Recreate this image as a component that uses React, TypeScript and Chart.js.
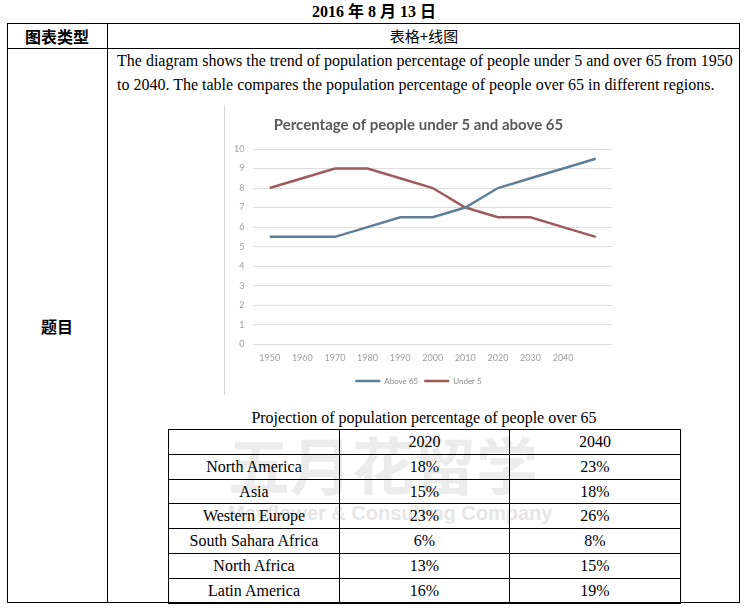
import React, { useEffect, useRef } from "react";
import { Chart, registerables } from "chart.js";

Chart.register(...registerables);

const years = ["1950", "1960", "1970", "1980", "1990", "2000", "2010", "2020", "2030", "2040", ""];
const above65 = [5.5, 5.5, 5.5, 6, 6.5, 6.5, 7, 8, 8.5, 9, 9.5];
const under5 = [8, 8.5, 9, 9, 8.5, 8, 7, 6.5, 6.5, 6, 5.5];

const regions = ["North America", "Asia", "Western Europe", "South Sahara Africa", "North Africa", "Latin America"];
const col2020 = ["18%", "15%", "23%", "6%", "13%", "16%"];
const col2040 = ["23%", "18%", "26%", "8%", "15%", "19%"];
const tableHeaders = ["", "2020", "2040"];

const SERIF = "'Liberation Serif', 'Times New Roman', 'Noto Sans CJK SC', serif";
const CJK = "'Liberation Serif', 'Noto Sans CJK SC', serif";
const SANS = "Lato, 'Open Sans', sans-serif";

function LineChart() {
  const ref = useRef<HTMLCanvasElement>(null);
  useEffect(() => {
    if (!ref.current) return;
    const chart = new Chart(ref.current, {
      type: "line",
      data: {
        labels: years,
        datasets: [
          {
            label: "Above 65",
            data: above65,
            borderColor: "#5d7f99",
            backgroundColor: "#5d7f99",
            borderWidth: 2.5,
            pointRadius: 0,
            tension: 0,
          },
          {
            label: "Under 5",
            data: under5,
            borderColor: "#a05a5e",
            backgroundColor: "#a05a5e",
            borderWidth: 2.5,
            pointRadius: 0,
            tension: 0,
          },
        ],
      },
      options: {
        responsive: false,
        animation: false,
        layout: { padding: { left: 0, right: 13, top: 0, bottom: 0 } },
        plugins: {
          title: {
            display: true,
            text: "Percentage of people under 5 and above 65",
            color: "#595959",
            font: { family: SANS, size: 15, weight: "bold" },
            padding: { top: 11, bottom: 15 },
          },
          legend: {
            position: "bottom",
            labels: {
              usePointStyle: true,
              pointStyle: "line",
              pointStyleWidth: 25,
              color: "#8c8c8c",
              font: { family: SANS, size: 8 },
              padding: 6,
            },
          },
          tooltip: { enabled: false },
        },
        scales: {
          x: {
            offset: true,
            grid: { display: false, drawTicks: false },
            border: { display: false },
            ticks: {
              color: "#a0a0a0",
              font: { family: SANS, size: 9 },
              padding: 8,
              maxRotation: 0,
              autoSkip: false,
            },
          },
          y: {
            min: 0,
            max: 10,
            grid: { color: "#dedede", drawTicks: false },
            border: { display: false },
            ticks: {
              stepSize: 1,
              color: "#a0a0a0",
              font: { family: SANS, size: 9 },
              padding: 9,
            },
          },
        },
      },
    });
    return () => chart.destroy();
  }, []);
  return <canvas ref={ref} width={400} height={290} style={{ display: "block" }} />;
}

const rowLines = [429, 454, 479, 503, 528, 553, 578, 602];
const colLines = [168, 339, 509, 680];

export default function App() {
  const abs = (l: number, t: number, w: number, h: number): React.CSSProperties => ({
    position: "absolute",
    left: l,
    top: t,
    width: w,
    height: h,
  });
  const rows = [tableHeaders, ...regions.map((r, i) => [r, col2020[i], col2040[i]])];
  return (
    <div style={{ position: "absolute", left: 0, top: 0, width: 748, height: 609, background: "#fff", overflow: "hidden", fontFamily: SERIF, color: "#000" }}>
      {/* date title */}
      <div style={{ ...abs(0, 2, 748, 20), textAlign: "center", fontWeight: "bold", fontSize: 16, lineHeight: "20px", fontFamily: CJK }}>
        2016 年 8 月 13 日
      </div>
      {/* outer table */}
      <div style={{ ...abs(7, 23, 733, 580), border: "1px solid #000", boxSizing: "border-box" }} />
      <div style={{ ...abs(7, 48, 733, 1), background: "#000" }} />
      <div style={{ ...abs(107, 23, 1, 580), background: "#000" }} />
      <div style={{ ...abs(7, 24, 100, 24), textAlign: "center", fontWeight: "bold", fontSize: 16, lineHeight: "24px", fontFamily: "'Noto Sans CJK SC', sans-serif" }}>
        图表类型
      </div>
      <div style={{ ...abs(108, 24, 632, 24), textAlign: "center", fontSize: 15, lineHeight: "24px", fontFamily: "'Noto Sans CJK SC', sans-serif" }}>
        表格+线图
      </div>
      <div style={{ ...abs(7, 314, 100, 24), textAlign: "center", fontWeight: "bold", fontSize: 16, lineHeight: "24px", fontFamily: "'Noto Sans CJK SC', sans-serif" }}>
        题目
      </div>
      {/* description */}
      <div style={{ ...abs(117, 49, 625, 24), fontSize: 16, lineHeight: "24px", whiteSpace: "nowrap" }}>
        The diagram shows the trend of population percentage of people under 5 and over 65 from 1950
      </div>
      <div style={{ ...abs(117, 73, 625, 24), fontSize: 16, lineHeight: "24px", whiteSpace: "nowrap" }}>
        to 2040. The table compares the population percentage of people over 65 in different regions.
      </div>
      {/* chart image */}
      <div style={{ ...abs(224, 105, 401, 290), borderLeft: "1px solid #d6d6d6", boxSizing: "border-box" }}>
        <LineChart />
      </div>
      {/* watermark */}
      <div style={{ ...abs(228, 428, 330, 70), fontSize: 62, fontWeight: "bold", color: "#ececec", lineHeight: "70px", fontFamily: "'Noto Sans CJK SC', sans-serif", letterSpacing: 0, whiteSpace: "nowrap" }}>
        五月花留学
      </div>
      <div style={{ ...abs(228, 500, 320, 26), fontSize: 20, fontWeight: "bold", color: "#e6e6e6", lineHeight: "26px", fontFamily: "'Liberation Sans', sans-serif", whiteSpace: "nowrap" }}>
        Mayflower &amp; Consulting Company
      </div>
      {/* inner table caption */}
      <div style={{ ...abs(168, 407, 512, 22), textAlign: "center", fontSize: 16, lineHeight: "22px" }}>
        Projection of population percentage of people over 65
      </div>
      {/* inner table lines */}
      {rowLines.map((y, i) => (
        <div key={"r" + i} style={{ ...abs(168, y, 513, i === rowLines.length - 1 ? 2 : 1), background: "#000" }} />
      ))}
      {colLines.map((x, i) => (
        <div key={"c" + i} style={{ ...abs(x, 429, 1, 174), background: "#000" }} />
      ))}
      {rows.map((row, ri) =>
        row.map((cell, ci) => (
          <div
            key={ri + "-" + ci}
            style={{
              ...abs(colLines[ci] + 1, rowLines[ri] + 1, colLines[ci + 1] - colLines[ci] - 1, rowLines[ri + 1] - rowLines[ri] - 1),
              textAlign: "center",
              fontSize: 16,
              lineHeight: rowLines[ri + 1] - rowLines[ri] - 1 + "px",
              whiteSpace: "nowrap",
            }}
          >
            {cell}
          </div>
        ))
      )}
    </div>
  );
}
